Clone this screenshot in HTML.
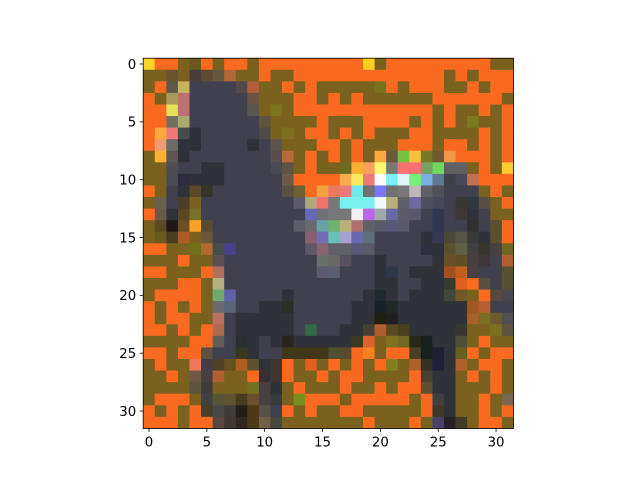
<!DOCTYPE html>
<html><head><meta charset="utf-8"><style>
html,body{margin:0;padding:0;background:#fff;}
svg{display:block;font-family:"DejaVu Sans","Liberation Sans",sans-serif;}
</style></head><body>
<svg id="chart" width="640" height="480" viewBox="0 0 640 480" xmlns="http://www.w3.org/2000/svg">
<rect width="640" height="480" fill="#fff"/>
<g id="cells"></g>
<rect x="143.2" y="58.2" width="370.2" height="370.2" fill="none" stroke="#000" stroke-width="0.8"/>
<g id="xticks"></g>
<g id="yticks"></g>
</svg>
<script>
const palette = {O:"#f96a20", L:"#7a621e", D:"#40404e", d:"#30323a", G:"#5a5860"};
const pixelRows = [
"fdd22a O O L 6e5a20 O L O O L O O O O O O O O O fcd020 L O O O O O O O O O L L",
"L L 6a5530 L 4a3e3a 5e4a32 665840 b06a3a L L O L L O O O O O O O O O O O O O L O L O O O",
"L O 5e5a4a c8b45a D D D D 564848 b05e3a L L O L O L L L L L 7a7020 O L O O O L L O L O O",
"O L aa9a5a c07074 D D D D D 6a5448 L L L O O L O L O L L L L L L O O O O O O L",
"O O e6e05a c07074 D D D D D 5a5650 L 7a7420 L O O O O O O O O O O O O L O L L O L O",
"O O 74705e aaaa6a D D D D D D 5e5440 L L L L O L L L O O O O L O L O L 787a20 L L O",
"O fca840 f07878 484c4c d D D D D D 4e4a48 L 7c7020 L O O L O L O L L L O O L L L L O L O",
"O f09c70 6c6a66 d d D D D D d D 5c5648 L L L O O L O L L L O O O L O O L O L O",
"L fcb030 5e5656 d D D D D D D D 585050 bc6838 L O L O L O L fcaa40 6a5a3e 78c040 fcc040 7a7a24 6e5a2e f09848 O O O L O",
"L L 4e4e52 D D d d D D D D 4a4a52 5e5440 L O L L 6c6a20 fcb030 fca060 fcf870 787878 fc7070 fc7070 78a060 70d860 606060 606060 L O L fccc30",
"L L 4a4e54 302c40 d d d D D D D D 6e5a48 O O O O fcac50 fce860 f07878 fcfcfc 78f0f8 e0f4f8 78f078 78b0e0 607890 404048 484858 c07050 O O O",
"O L D d 5a4828 38362a D D D D D D 5a5040 6e6030 O f0a040 f07860 f07878 70e8e8 707070 7878f8 707070 787878 c0b8b8 606068 505058 D D D L O L",
"L 6a6050 D 4a3e2a L D D D D D D D D 5e5a6a b0a878 f07070 787878 78f0f0 78f0f0 78f0f0 f0f8fc b8b078 606068 7068a0 505060 484858 D 383830 303840 585040 L O",
"O 6a5a4a d 5a4822 7a7028 D D D D D D D D D 6868b8 707078 787878 787878 f8f0f0 b868e8 a0a8a8 6868a8 5e5a68 585868 D 303850 D 403838 d D L L",
"L 5a4a28 201818 6a5020 fca028 5a4a30 D D D D D D D 5e5e6a 6a6a6e 6aa0aa 70b070 b8b078 b07070 606068 5a5a68 585878 5a5a68 D D 303850 D D 303030 D 5a5030 O",
"L 6a5a1e 4a3e1e b05a28 L 6a5838 D D D D D D D D 8a6070 7070b0 68c0b8 a8a0c8 6a68b0 607078 D D D D d 383850 4a4838 585448 383c38 d 585030 O",
"O O L L 707018 b06a30 484c4c 48408a D D D D D D 5e5868 886470 606068 606068 585878 5a5a68 D D D D 303040 d 5a5030 606048 404040 383830 484040 706820",
"L L L O L L 5a5250 D D D D D D D D 6a706a 686868 585060 D D d D D D D d 6a5028 605028 484040 403838 D b06030",
"O O L L L O b07060 D D D D D D D D 5e5a6e 586070 D D D d 303848 D d d d a05020 c06020 484040 D D 585030",
"L L L O O L b0b080 D D D D D D D D D D D D D d d D D d d 383c30 e06020 fc6a1e 585040 D 585030",
"L O O O O L 70a870 6060a8 D D D D d D D D D D D d 202830 d D d d d 404838 705828 L O 584840 484850",
"O L O L O L 6a6a6a 5a6478 D D d d 283028 D D D D D d d 182028 202828 d d d d d d a05820 b86030 D D",
"O L O O L L b87060 D d d d d d D D D D D d d 202010 202020 d d d d d d a86028 787020 6e5a30 505050",
"O O L O L O b06a50 D d d d d d D 306848 D D d d 484030 b05e30 5a4820 4a4020 d d d d 383830 L L 787020 5e5440",
"L L L L O O 606058 D 283030 d D d 282420 d d d d d 403820 e06030 L 807020 706a20 282818 182020 d d 505038 L O L L",
"O O L O O 605040 D D 383820 d D D 403818 403818 403818 403818 505030 5a4a30 O fc8020 L O O 484028 182020 202030 d 686020 O L O O",
"L O L L f07858 483c48 504028 665020 b05e20 5e5030 d 403830 O L e06020 L O L O L O 808020 L b06028 383020 202038 d b06028 L O O L",
"L L O L 705848 484040 b06030 L L O d 403830 O L L O L O O L L L L O 4a4030 d d L O L O L",
"L L L L 5e5440 403c3c L L L 707020 484040 d L O L L L O L L O L O O 605030 d d L L L O L",
"L O O O L 404040 585438 5e5430 483c20 6a5030 484040 383c38 L 789020 O O O L O O O O O L O 404040 d L L O L 786850",
"O L O L O 4a3e28 484848 403c3c 202018 4a3818 585048 D O L O L L O O L L L L L O 403828 d L L O L O",
"O O O L O O 584840 403834 302820 4a3a18 706048 484840 L L L L L L L O L L L O L 484068 282028 403c28 L O O L"
];
const xTickValues = [0,5,10,15,20,25,30];
const yTickValues = [0,5,10,15,20,25,30];

const NS = "http://www.w3.org/2000/svg";
const x0 = 143.2, y0 = 58.2, cell = 370.2/32;
function xScale(c){ return x0 + c*cell; }
function yScale(r){ return y0 + r*cell; }
function colorOf(t){ return palette[t] || ("#" + t); }

const cellsG = document.getElementById("cells");
pixelRows.forEach((row, r) => {
  const toks = row.trim().split(/\s+/);
  toks.forEach((t, c) => {
    const rect = document.createElementNS(NS, "rect");
    rect.setAttribute("x", xScale(c));
    rect.setAttribute("y", yScale(r));
    rect.setAttribute("width", cell + 0.4);
    rect.setAttribute("height", cell + 0.4);
    rect.setAttribute("fill", colorOf(t));
    
    
    cellsG.appendChild(rect);
  });
});

const xg = document.getElementById("xticks");
xTickValues.forEach(v => {
  const x = xScale(v + 0.5);
  const ln = document.createElementNS(NS, "line");
  ln.setAttribute("x1", x); ln.setAttribute("x2", x);
  ln.setAttribute("y1", y0 + 370.2); ln.setAttribute("y2", y0 + 370.2 + 3.5);
  ln.setAttribute("stroke", "#000"); ln.setAttribute("stroke-width", "0.8");
  
  
  xg.appendChild(ln);
  const tx = document.createElementNS(NS, "text");
  tx.setAttribute("x", x); tx.setAttribute("y", y0 + 370.2 + 18);
  tx.setAttribute("text-anchor", "middle"); tx.setAttribute("font-size", "13.3");
  tx.textContent = v;
  
  
  xg.appendChild(tx);
});
const yg = document.getElementById("yticks");
yTickValues.forEach(v => {
  const y = yScale(v + 0.5);
  const ln = document.createElementNS(NS, "line");
  ln.setAttribute("x1", x0 - 3.5); ln.setAttribute("x2", x0);
  ln.setAttribute("y1", y); ln.setAttribute("y2", y);
  ln.setAttribute("stroke", "#000"); ln.setAttribute("stroke-width", "0.8");
  
  
  yg.appendChild(ln);
  const tx = document.createElementNS(NS, "text");
  tx.setAttribute("x", x0 - 7); tx.setAttribute("y", y + 4.8);
  tx.setAttribute("text-anchor", "end"); tx.setAttribute("font-size", "13.3");
  tx.textContent = v;
  
  
  yg.appendChild(tx);
});
</script>
</body></html>
